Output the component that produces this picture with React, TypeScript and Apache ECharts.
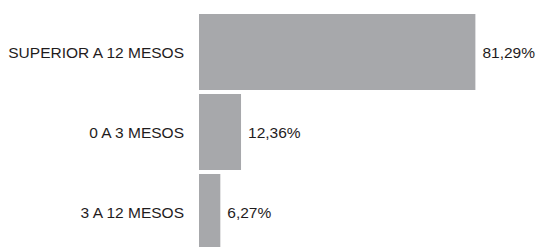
import React, { useEffect, useRef } from "react";
import * as echarts from "echarts";

const categories = ["SUPERIOR A 12 MESOS", "0 A 3 MESOS", "3 A 12 MESOS"];
const values = [81.29, 12.36, 6.27];

export default function App() {
  const ref = useRef<HTMLDivElement>(null);
  useEffect(() => {
    if (!ref.current) return;
    const chart = echarts.init(ref.current, null, { renderer: "svg" });
    chart.setOption({
      animation: false,
      grid: { left: 199, width: 341, top: 12, height: 240, containLabel: false },
      xAxis: {
        type: "value",
        min: 0,
        max: 100,
        show: false,
      },
      yAxis: {
        type: "category",
        data: categories,
        inverse: true,
        axisLine: { show: false },
        axisTick: { show: false },
        splitLine: { show: false },
        axisLabel: {
          margin: 15,
          color: "#1f1c1d",
          fontSize: 15.5,
          fontFamily: "'Liberation Sans', Arial, sans-serif",
        },
      },
      series: [
        {
          type: "bar",
          data: values,
          barCategoryGap: "5%",
          itemStyle: { color: "#a7a8ab" },
          label: {
            show: true,
            position: "right",
            distance: 7,
            color: "#1f1c1d",
            fontSize: 15.5,
            fontFamily: "'Liberation Sans', Arial, sans-serif",
            formatter: (p: any) => p.value.toFixed(2).replace(".", ",") + "%",
          },
        },
      ],
    });
    return () => chart.dispose();
  }, []);
  return (
    <div
      style={{ position: "absolute", left: 0, top: 0, width: 539, height: 247, overflow: "hidden", background: "#fff" }}
    >
      <div ref={ref} style={{ width: 539, height: 262 }} />
    </div>
  );
}
